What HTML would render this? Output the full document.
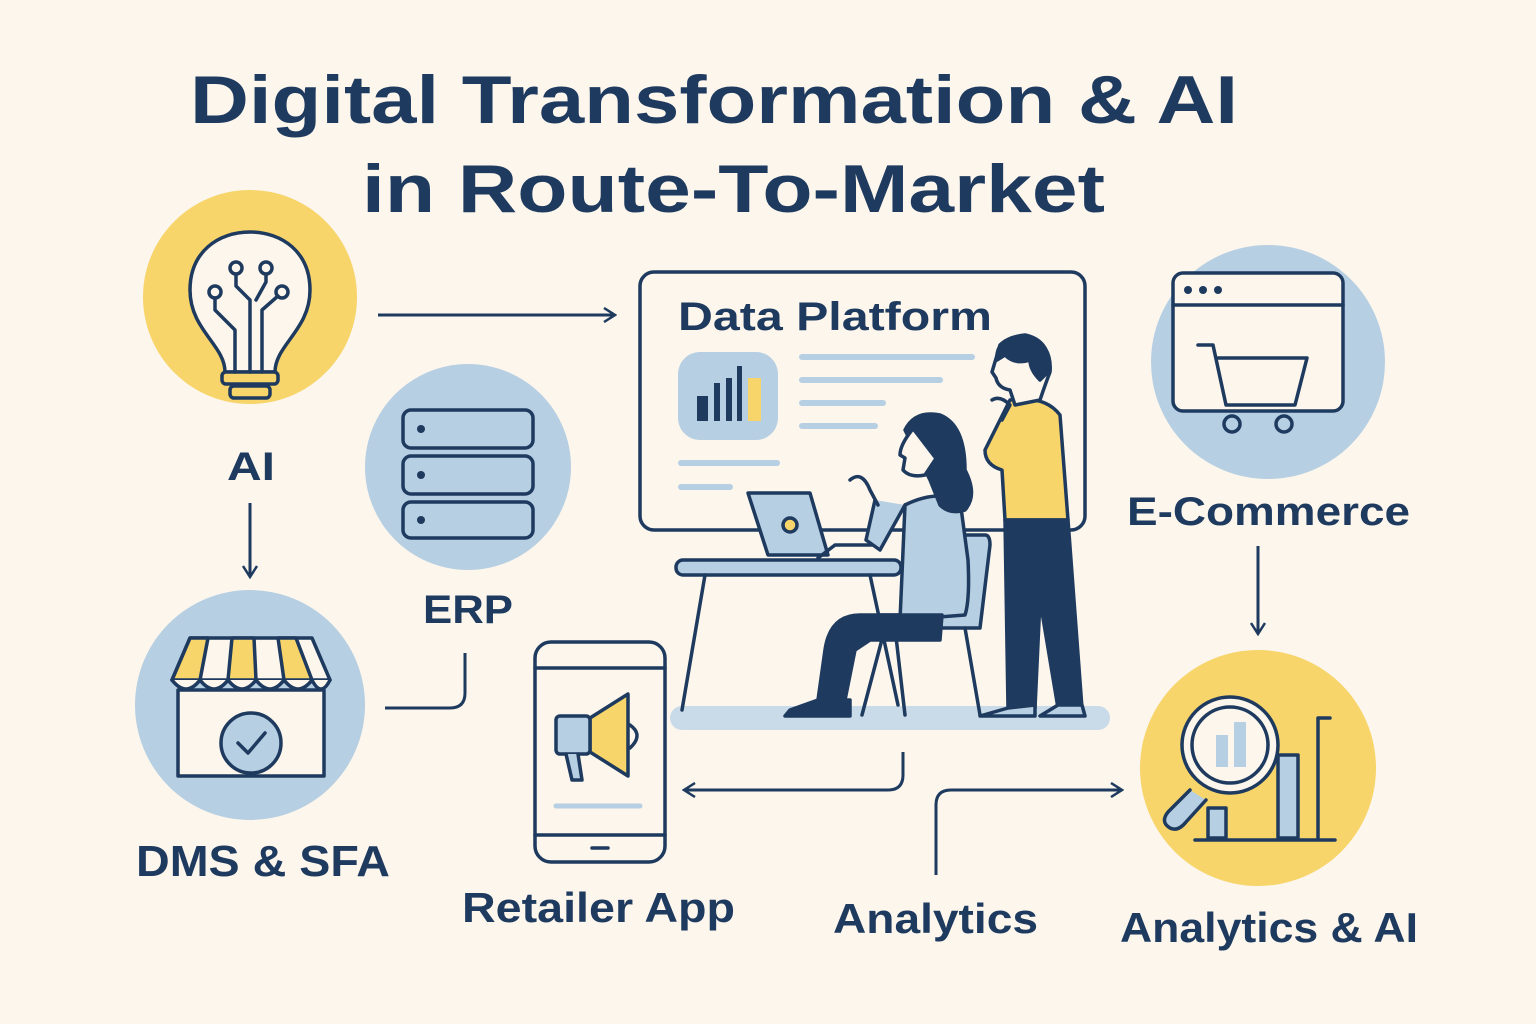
<!DOCTYPE html>
<html><head><meta charset="utf-8"><style>
html,body{margin:0;padding:0;background:#fcf6ec;}
svg{display:block;}
text{font-family:"Liberation Sans",sans-serif;fill:#1e3a5f;font-weight:bold;}
</style></head><body>
<svg width="1536" height="1024" viewBox="0 0 1536 1024" xmlns="http://www.w3.org/2000/svg">
<rect width="1536" height="1024" fill="#fcf6ec"/>
<defs>
<marker id="ah" markerWidth="14" markerHeight="16" refX="11" refY="8" orient="auto" markerUnits="userSpaceOnUse">
<path d="M1,1 L12,8 L1,15" fill="none" stroke="#1e3a5f" stroke-width="2.5"/>
</marker>
</defs>
<text x="190" y="123" font-size="68" textLength="1048" lengthAdjust="spacingAndGlyphs">Digital Transformation  &amp; AI</text>
<text x="362" y="212" font-size="68" textLength="743" lengthAdjust="spacingAndGlyphs">in Route-To-Market</text>

<!-- AI circle -->
<circle cx="250" cy="297" r="107" fill="#f7d56a"/>
<g fill="none" stroke="#1e3a5f" stroke-width="3.5" stroke-linecap="round" stroke-linejoin="round">
<path d="M225,372 C225,345 190,330 190,290 C190,252 218,232 250,232 C282,232 310,252 310,290 C310,330 275,345 275,372 Z" fill="#fcf6ec"/>
<rect x="222" y="372" width="56" height="12" rx="4" fill="#f7d56a"/>
<rect x="230" y="386" width="40" height="12" rx="4" fill="#f7d56a"/>
<path d="M235,372 V330 L215,310 V298"/><circle cx="215" cy="292" r="6"/>
<path d="M250,372 V300 L236,286 V275"/><circle cx="236" cy="268" r="6"/>
<path d="M262,372 V310 L278,296"/><circle cx="282" cy="292" r="6"/>
<path d="M256,300 L266,282 V276"/><circle cx="266" cy="268" r="6"/>
</g>
<text x="227" y="480" font-size="40" textLength="48" lengthAdjust="spacingAndGlyphs">AI</text>
<line x1="250" y1="503" x2="250" y2="576" stroke="#1e3a5f" stroke-width="3" marker-end="url(#ah)"/>

<!-- DMS circle -->
<circle cx="250" cy="705" r="115" fill="#b7cfe2"/>
<g stroke="#1e3a5f" stroke-width="3.5" stroke-linejoin="round" stroke-linecap="round">
<rect x="178" y="690" width="146" height="86" fill="#fcf6ec"/>
<path d="M190,638 H312 L330,680 H172 Z" fill="#fcf6ec"/>
<path d="M172,680 L190,638 H208 L200,680 Z" fill="#f7d56a"/>
<path d="M228,680 L232,638 H254 L256,680 Z" fill="#f7d56a"/>
<path d="M284,680 L278,638 H296 L312,680 Z" fill="#f7d56a"/>
<path d="M172,680 Q186,698 200,680 Q214,698 228,680 Q242,698 256,680 Q270,698 284,680 Q298,698 312,680 Q321,698 330,680" fill="#fcf6ec"/>
<circle cx="251" cy="743" r="30" fill="#b7cfe2"/>
<path d="M238,743 L248,753 L265,733" fill="none"/>
</g>
<text x="136" y="876" font-size="44" textLength="254" lengthAdjust="spacingAndGlyphs">DMS &amp; SFA</text>

<!-- ERP -->
<circle cx="468" cy="467" r="103" fill="#b7cfe2"/>
<g stroke="#1e3a5f" stroke-width="3.5" fill="#b7cfe2">
<rect x="403" y="410" width="130" height="38" rx="8"/>
<rect x="403" y="456" width="130" height="38" rx="8"/>
<rect x="403" y="502" width="130" height="36" rx="8"/>
</g>
<g fill="#1e3a5f"><circle cx="421" cy="429" r="4"/><circle cx="421" cy="475" r="4"/><circle cx="421" cy="520" r="4"/></g>
<text x="423" y="623" font-size="40" textLength="90" lengthAdjust="spacingAndGlyphs">ERP</text>
<path d="M385,708 H450 Q465,708 465,693 V653" fill="none" stroke="#1e3a5f" stroke-width="3"/>

<line x1="378" y1="315" x2="614" y2="315" stroke="#1e3a5f" stroke-width="3" marker-end="url(#ah)"/>

<!-- Board -->
<rect x="640" y="272" width="445" height="258" rx="14" fill="#fcf6ec" stroke="#1e3a5f" stroke-width="3.5"/>
<text x="678" y="330" font-size="40" textLength="314" lengthAdjust="spacingAndGlyphs">Data Platform</text>
<rect x="678" y="352" width="100" height="88" rx="22" fill="#b7cfe2"/>
<g fill="#1e3a5f"><rect x="697" y="396" width="11" height="25"/><rect x="714" y="383" width="6" height="38"/><rect x="726" y="378" width="6" height="43"/><rect x="737" y="366" width="5" height="55"/></g>
<rect x="748" y="378" width="13" height="43" fill="#f7d56a"/>
<g stroke="#b7cfe2" stroke-width="6" stroke-linecap="round">
<line x1="802" y1="357" x2="972" y2="357"/><line x1="802" y1="380" x2="940" y2="380"/>
<line x1="802" y1="403" x2="883" y2="403"/><line x1="802" y1="426" x2="875" y2="426"/>
<line x1="681" y1="463" x2="777" y2="463"/><line x1="681" y1="487" x2="730" y2="487"/>
</g>
<rect x="670" y="706" width="440" height="24" rx="12" fill="#c9dbe9"/>
<g stroke="#1e3a5f" stroke-width="3.5" stroke-linecap="round" stroke-linejoin="round">
<rect x="676" y="560" width="225" height="15" rx="7" fill="#b7cfe2"/>
<line x1="705" y1="575" x2="682" y2="710"/><line x1="870" y1="575" x2="898" y2="705"/>
<path d="M748,493 H810 L828,555 H768 Z" fill="#b7cfe2"/>
<path d="M818,558 L835,545 H880" fill="none"/>
<circle cx="790" cy="525" r="7" fill="#f7d56a"/>
<path d="M945,535 H985 Q990,535 990,545 L980,628 H875 Q870,620 880,615 H945 Z" fill="#b7cfe2"/>
<line x1="885" y1="628" x2="862" y2="715"/><line x1="965" y1="628" x2="980" y2="715"/><line x1="895" y1="628" x2="905" y2="715"/>
<path d="M905,505 Q935,490 960,500 L968,560 Q970,600 965,615 L900,620 Z" fill="#b7cfe2"/>
<path d="M905,505 L880,550 L866,540 L875,500" fill="#b7cfe2"/>
<path d="M850,480 Q862,470 870,490 L878,505" fill="none"/>
<path d="M942,615 H860 Q830,615 825,650 L818,700 H845 L855,650 L870,640 H940 Z" fill="#1e3a5f"/>
<path d="M818,700 L790,710 L785,716 H850 V700 Z" fill="#1e3a5f"/>
<path d="M905,430 Q915,410 940,415 Q965,425 965,470 Q978,495 965,510 Q950,515 940,505 L930,480 Z" fill="#1e3a5f"/>
<path d="M912,430 Q900,445 900,455 L905,458 L903,470 Q910,478 925,475 L935,460" fill="#fcf6ec"/>
<path d="M1010,400 Q1045,395 1060,415 L1068,520 H1005 L1002,470 Q985,465 985,450 L1000,420 Z" fill="#f7d56a"/>
<path d="M1005,520 H1068 L1082,708 H1058 L1040,600 L1035,708 H1008 Z" fill="#1e3a5f"/>
<path d="M1008,708 L980,716 H1035 V705 Z M1058,705 L1040,716 H1085 L1082,705 Z" fill="#b7cfe2"/>
<path d="M1000,345 Q1010,335 1030,338 Q1052,345 1050,372 Q1045,385 1040,400 L1015,405 L1010,390 Q998,388 996,378 L992,372 Z" fill="#fcf6ec"/>
<path d="M997,360 Q995,338 1025,335 Q1050,340 1050,370 L1040,380 Q1030,370 1030,360 Q1015,365 1005,355 Z" fill="#1e3a5f"/>
<path d="M992,400 Q1000,395 1010,405 L1002,420" fill="none"/>
</g>

<!-- E-Commerce -->
<circle cx="1268" cy="362" r="117" fill="#b7cfe2"/>
<g stroke="#1e3a5f" stroke-width="3.5" fill="none" stroke-linecap="round" stroke-linejoin="round">
<rect x="1173" y="273" width="170" height="138" rx="10" fill="#fcf6ec"/>
<line x1="1173" y1="305" x2="1343" y2="305"/>
<path d="M1198,345 H1213 L1226,405 H1295 L1307,358 H1218"/>
<circle cx="1232" cy="424" r="8"/><circle cx="1284" cy="424" r="8"/>
</g>
<g fill="#1e3a5f"><circle cx="1188" cy="290" r="4"/><circle cx="1203" cy="290" r="4"/><circle cx="1218" cy="290" r="4"/></g>
<text x="1127" y="525" font-size="40" textLength="283" lengthAdjust="spacingAndGlyphs">E-Commerce</text>
<line x1="1258" y1="546" x2="1258" y2="633" stroke="#1e3a5f" stroke-width="3" marker-end="url(#ah)"/>

<!-- Analytics & AI -->
<circle cx="1258" cy="768" r="118" fill="#f7d56a"/>
<g stroke="#1e3a5f" stroke-width="3.5" stroke-linejoin="round" stroke-linecap="round">
<rect x="1208" y="808" width="18" height="30" fill="#b7cfe2"/>
<rect x="1278" y="755" width="20" height="83" fill="#b7cfe2"/>
<path d="M1318,838 V718 H1330" fill="none"/>
<line x1="1195" y1="840" x2="1335" y2="840"/>
<path d="M1190,790 L1168,812 Q1160,822 1170,828 Q1178,832 1186,822 L1206,800" fill="#b7cfe2"/>
<circle cx="1230" cy="745" r="48" fill="#fcf6ec"/>
<circle cx="1230" cy="745" r="38" fill="#fcf6ec"/>
</g>
<rect x="1216" y="735" width="12" height="32" fill="#b7cfe2"/>
<rect x="1234" y="722" width="12" height="45" fill="#b7cfe2"/>
<text x="1120" y="942" font-size="42" textLength="298" lengthAdjust="spacingAndGlyphs">Analytics &amp; AI</text>

<!-- phone -->
<g stroke="#1e3a5f" stroke-width="3.5" stroke-linejoin="round" stroke-linecap="round">
<rect x="535" y="642" width="130" height="220" rx="16" fill="#fcf6ec"/>
<line x1="535" y1="668" x2="665" y2="668"/><line x1="535" y1="835" x2="665" y2="835"/>
<line x1="592" y1="848" x2="608" y2="848"/>
<path d="M590,718 L628,694 V776 L590,752 Z" fill="#f7d56a"/>
<rect x="556" y="716" width="34" height="38" rx="4" fill="#b7cfe2"/>
<path d="M566,754 L572,780 H582 L578,754" fill="#b7cfe2"/>
<path d="M630,725 Q644,735 630,748" fill="none"/>
</g>
<line x1="556" y1="806" x2="640" y2="806" stroke="#b7cfe2" stroke-width="5" stroke-linecap="round"/>
<text x="462" y="922" font-size="42" textLength="273" lengthAdjust="spacingAndGlyphs">Retailer App</text>

<path d="M903,752 V775 Q903,790 888,790 H685" fill="none" stroke="#1e3a5f" stroke-width="3" marker-end="url(#ah)"/>
<path d="M936,875 V805 Q936,790 951,790 H1121" fill="none" stroke="#1e3a5f" stroke-width="3" marker-end="url(#ah)"/>
<text x="833" y="933" font-size="42" textLength="205" lengthAdjust="spacingAndGlyphs">Analytics</text>
</svg>
</body></html>
